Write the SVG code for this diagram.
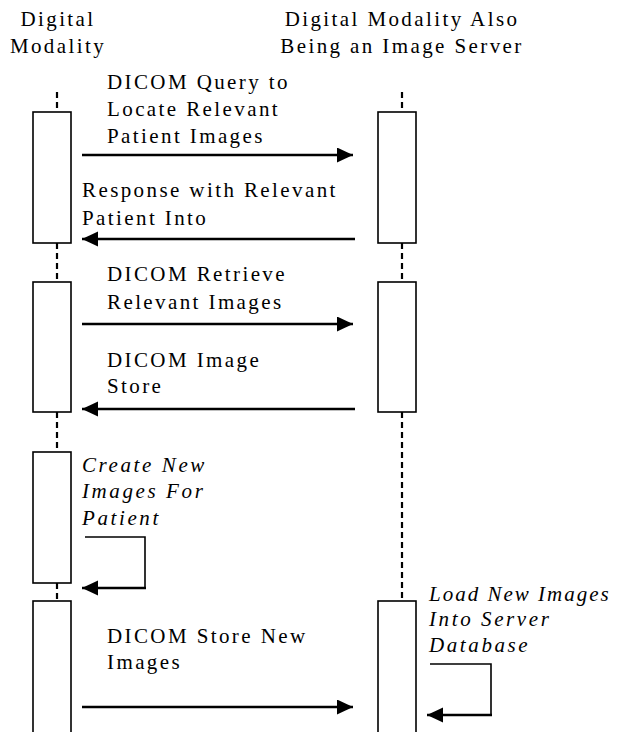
<svg xmlns="http://www.w3.org/2000/svg" width="617" height="732" viewBox="0 0 617 732">
<style>
  text { font-family: "Liberation Serif", "Times New Roman", serif; font-size: 21px; letter-spacing: 2.4px; fill: #000; }
  .it { font-style: italic; letter-spacing: 2.6px; }
  .mid { text-anchor: middle; }
  .box { fill: #fff; stroke: #000; stroke-width: 1.6; }
  .life { stroke: #000; stroke-width: 2.2; stroke-dasharray: 6 4; fill: none; }
  .msg { stroke: #000; stroke-width: 2.6; fill: none; }
  .thin { stroke: #000; stroke-width: 1.6; fill: none; }
</style>
<defs>
  <marker id="ah" markerUnits="userSpaceOnUse" markerWidth="17" markerHeight="16" refX="16" refY="7.5" orient="auto">
    <path d="M0,0 L16,7.5 L0,15 z" fill="#000"/>
  </marker>
</defs>
<rect width="617" height="732" fill="#fff"/>

<g id="lifelines">
  <line class="life" x1="57" y1="92" x2="57" y2="112"/>
  <line class="life" x1="57" y1="243" x2="57" y2="282"/>
  <line class="life" x1="57" y1="412" x2="57" y2="452"/>
  <line class="life" x1="57" y1="583" x2="57" y2="601"/>
  <line class="life" x1="402" y1="92" x2="402" y2="112"/>
  <line class="life" x1="402" y1="243" x2="402" y2="282"/>
  <line class="life" x1="402" y1="412" x2="402" y2="601"/>
</g>

<g id="modality">
  <text class="mid" x="58" y="26">Digital</text>
  <text class="mid" x="58" y="53">Modality</text>
  <rect class="box" x="33" y="112" width="38" height="131"/>
  <rect class="box" x="33" y="282" width="38" height="130"/>
  <rect class="box" x="33" y="452" width="38" height="131"/>
  <rect class="box" x="33" y="601" width="38" height="140"/>
</g>

<g id="server">
  <text class="mid" x="402" y="26">Digital Modality Also</text>
  <text class="mid" x="402" y="53">Being an Image Server</text>
  <rect class="box" x="378" y="112" width="38" height="131"/>
  <rect class="box" x="378" y="282" width="38" height="130"/>
  <rect class="box" x="378" y="601" width="38" height="140"/>
</g>

<g id="connectors">
  <line class="msg" x1="82" y1="155" x2="353" y2="155" marker-end="url(#ah)"/>
  <line class="msg" x1="355" y1="239" x2="82" y2="239" marker-end="url(#ah)"/>
  <line class="msg" x1="82" y1="324" x2="353" y2="324" marker-end="url(#ah)"/>
  <line class="msg" x1="355" y1="409" x2="82" y2="409" marker-end="url(#ah)"/>
  <polyline class="thin" points="85,537 145,537 145,588"/>
  <line class="msg" x1="146" y1="588" x2="82" y2="588" marker-end="url(#ah)"/>
  <line class="msg" x1="82" y1="707" x2="353" y2="707" marker-end="url(#ah)"/>
  <polyline class="thin" points="430,664 491,664 491,715"/>
  <line class="msg" x1="492" y1="715" x2="427" y2="715" marker-end="url(#ah)"/>
</g>

<g id="labels">
  <text x="107" y="89">DICOM Query to</text>
  <text x="107" y="116">Locate Relevant</text>
  <text x="107" y="143">Patient Images</text>
  <text x="82" y="197">Response with Relevant</text>
  <text x="82" y="225">Patient Into</text>
  <text x="107" y="281">DICOM Retrieve</text>
  <text x="107" y="309">Relevant Images</text>
  <text x="107" y="367">DICOM Image</text>
  <text x="107" y="393">Store</text>
  <text class="it" x="82" y="472">Create New</text>
  <text class="it" x="82" y="498">Images For</text>
  <text class="it" x="82" y="525">Patient</text>
  <text x="107" y="643">DICOM Store New</text>
  <text x="107" y="669">Images</text>
  <text class="it" x="429" y="601" style="letter-spacing:2px">Load New Images</text>
  <text class="it" x="429" y="626">Into Server</text>
  <text class="it" x="429" y="652">Database</text>
</g>
</svg>
